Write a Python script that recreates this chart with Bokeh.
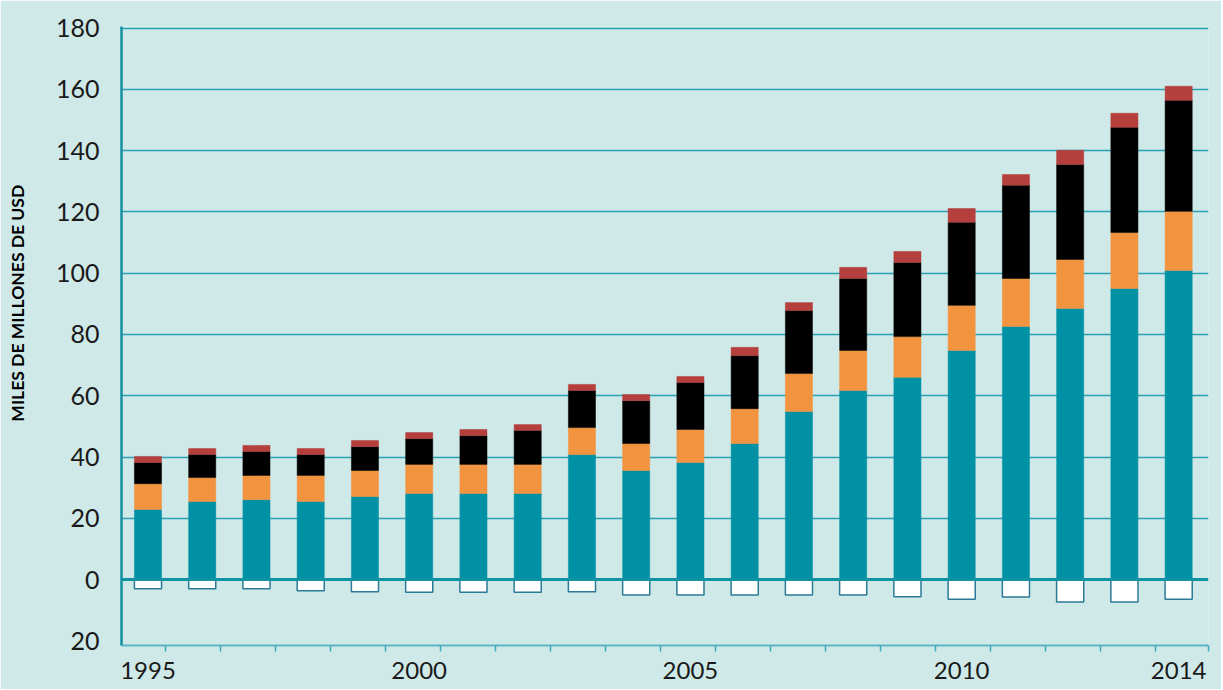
from bokeh.plotting import figure
from bokeh.models import FixedTicker, Span, ColumnDataSource, Range1d
from bokeh.embed import file_html
from bokeh.resources import INLINE

# ---- data ----
years = [1995, 1996, 1997, 1998, 1999, 2000, 2001, 2002, 2003, 2004,
         2005, 2006, 2007, 2008, 2009, 2010, 2011, 2012, 2013, 2014]
serie_teal = [22.9, 25.5, 26.1, 25.5, 27.1, 28.1, 28.1, 28.1, 40.8, 35.6,
              38.2, 44.4, 54.9, 61.7, 66.0, 74.8, 82.6, 88.5, 95.0, 100.9]
serie_orange = [8.4, 7.8, 7.9, 8.5, 8.5, 9.5, 9.5, 9.5, 8.8, 8.8,
                10.8, 11.4, 12.4, 13.1, 13.3, 14.7, 15.7, 16.0, 18.3, 19.3]
serie_black = [6.9, 7.5, 7.8, 6.8, 7.8, 8.4, 9.4, 11.1, 12.1, 14.0,
               15.3, 17.3, 20.5, 23.5, 24.2, 27.1, 30.4, 31.0, 34.3, 36.2]
serie_red = [2.0, 2.0, 2.0, 2.0, 2.0, 2.0, 2.0, 1.9, 2.0, 2.0,
             2.0, 2.7, 2.6, 3.6, 3.6, 4.5, 3.5, 4.6, 4.6, 4.6]
serie_neg = [-3.0, -3.0, -3.0, -3.6, -4.0, -4.1, -4.1, -4.1, -4.0, -5.0,
             -5.0, -5.0, -5.0, -5.0, -5.6, -6.4, -5.7, -7.3, -7.3, -6.4]
label_years = [1995, 2000, 2005, 2010, 2014]
y_ticks = [-20, 0, 20, 40, 60, 80, 100, 120, 140, 160, 180]
y_title = "MILES DE MILLONES DE USD"

BG = "#cfe9e8"
FONT = "Lato"

idx = list(range(len(years)))
src = ColumnDataSource(dict(x=idx, a=serie_teal, b=serie_orange, c=serie_black,
                            d=serie_red, neg=serie_neg))

X0, X1 = -0.488, 19.55
p = figure(frame_width=1087, frame_height=619,
           x_range=Range1d(X0, X1), y_range=Range1d(-21.5, 180.5),
           output_backend="svg", toolbar_location=None,
           min_border_left=121, min_border_top=26, min_border_right=13,
           min_border_bottom=44,
           background_fill_color=BG, border_fill_color=BG)
p.outline_line_color = None

p.vbar_stack(["a", "b", "c", "d"], x="x", width=0.5,
             color=["#0091a5", "#f2933f", "#000000", "#b43f3d"],
             line_width=0.5, source=src)
p.vbar(x="x", top=0, bottom="neg", width=0.5, fill_color="white",
       line_color="#2b7a96", line_width=1.5, source=src)

p.add_layout(Span(location=0, dimension="width", line_color="#0f93a3",
                  line_width=3))

# grid
p.xgrid.visible = False
p.ygrid.ticker = FixedTicker(ticks=[t for t in y_ticks if t > 0])
p.ygrid.grid_line_color = "#2aa1b1"
p.ygrid.grid_line_width = 1.5

# y axis
yax = p.yaxis[0]
yax.ticker = FixedTicker(ticks=y_ticks)
yax.major_label_overrides = {t: str(abs(t)) for t in y_ticks}
yax.axis_line_color = "#1590a2"
yax.axis_line_width = 2.5
yax.major_tick_out = 0
yax.major_tick_in = 0
yax.minor_tick_out = 0
yax.minor_tick_in = 0
yax.major_label_text_font = FONT
yax.major_label_text_font_size = "25px"
yax.major_label_text_color = "#1a1a1a"
yax.major_label_standoff = 22
# leading em-spaces lift the visible title a little above the frame centre
yax.axis_label = "\u2003" * 5 + y_title
yax.axis_label_text_font = FONT
yax.axis_label_text_font_style = "bold"
yax.axis_label_text_font_size = "17.5px"
yax.axis_label_text_color = "#000000"
yax.axis_label_standoff = 25

# x axis
xax = p.xaxis[0]
label_idx = [years.index(y) for y in label_years]
minor = [round(0.323 + 1.0138 * k, 3) for k in range(len(years) - 1)] + [X1]
xax.ticker = FixedTicker(ticks=label_idx, minor_ticks=minor)
xax.major_label_overrides = {i: str(years[i]) for i in label_idx}
xax.axis_line_color = "#5ab8c3"
xax.axis_line_width = 2
xax.major_tick_out = 0
xax.major_tick_in = 0
xax.minor_tick_out = 6
xax.minor_tick_in = 0
xax.minor_tick_line_color = "#3aaab8"
xax.minor_tick_line_width = 1.5
xax.major_label_text_font = FONT
xax.major_label_text_font_size = "24px"
xax.major_label_text_color = "#1a1a1a"
xax.major_label_standoff = 10

html = file_html(p, INLINE)
html = html.replace("<body>", '<body style="background-color:%s;">' % BG, 1)
open("out.html", "w").write(html)
